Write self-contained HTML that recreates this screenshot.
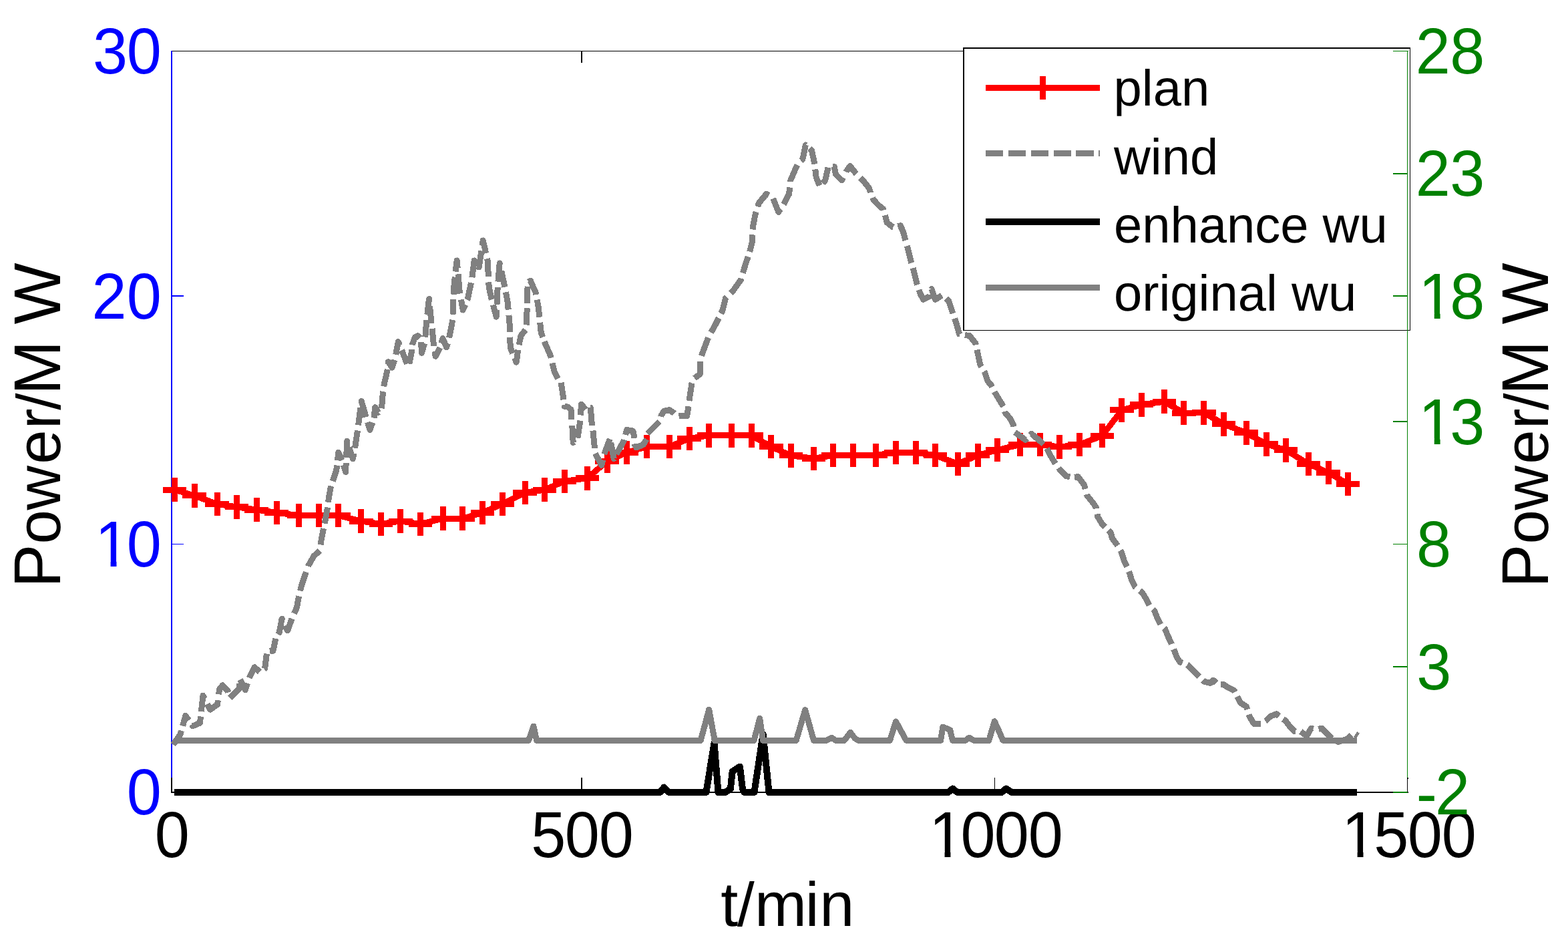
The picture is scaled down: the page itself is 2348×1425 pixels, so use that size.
<!DOCTYPE html>
<html lang="en"><head><meta charset="utf-8"><title>Power plan / wind chart</title>
<style>html,body{margin:0;padding:0;background:#fff;}body{width:2348px;height:1425px;overflow:hidden;}svg{display:block;font-family:'Liberation Sans', Arial, Helvetica, sans-serif;}text{white-space:pre;text-rendering:geometricPrecision;}</style></head><body>
<svg xmlns="http://www.w3.org/2000/svg" width="2348" height="1425" viewBox="0 0 2348 1425">
<defs><clipPath id="one" clipPathUnits="userSpaceOnUse"><rect x="-10" y="-90" width="65" height="81.3"/><rect x="24" y="-9.5" width="9.1" height="12"/><rect x="55" y="-90" width="400" height="130"/></clipPath></defs>
<rect x="0" y="0" width="2348" height="1425" fill="#ffffff"/>
<g shape-rendering="crispEdges">
<rect x="256" y="76" width="1852" height="1" fill="#000000"/>
<rect x="870" y="76" width="2" height="18" fill="#000000"/>
<rect x="1489" y="76" width="1" height="18" fill="#000000"/>
<rect x="256" y="1185" width="1853" height="2" fill="#000000"/>
<rect x="256" y="1164" width="2" height="22" fill="#000000"/>
<rect x="870" y="1164" width="2" height="22" fill="#000000"/>
<rect x="1489" y="1164" width="1" height="22" fill="#000000"/>
<rect x="2107" y="1164" width="1" height="22" fill="#000000"/>
<rect x="2107" y="1164" width="2" height="2" fill="#000000"/>
<rect x="256" y="76" width="2" height="1088" fill="#0000ff"/>
<rect x="258" y="442" width="17" height="2" fill="#0000ff"/>
<rect x="258" y="814" width="17" height="1" fill="#0000ff"/>
</g>
<text transform="matrix(0.975 0 0 1.015 139.06 110.2)" x="0 52.06" y="0" font-size="96" fill="#0000ff">30</text>
<text transform="matrix(0.975 0 0 1.015 137.62 477.2)" x="0 53.51" y="0" font-size="96" fill="#0000ff">20</text>
<text transform="matrix(0.975 0 0 1.015 142.21 848.2)" x="0 48.81" y="0" font-size="96" fill="#0000ff" clip-path="url(#one)">10</text>
<text transform="matrix(0.975 0 0 1.015 189.78 1219.2)" x="0" y="0" font-size="96" fill="#0000ff">0</text>
<text transform="matrix(0.975 0 0 1.015 231.68 1283.2)" x="0" y="0" font-size="96" fill="#000000">0</text>
<text transform="matrix(0.975 0 0 1.015 795.16 1283.2)" x="0 51.91 104.22" y="0" font-size="96" fill="#000000">500</text>
<text transform="matrix(0.975 0 0 1.015 1391.16 1283.2)" x="0 48.58 100.06 152.37" y="0" font-size="96" fill="#000000" clip-path="url(#one)">1000</text>
<text transform="matrix(0.975 0 0 1.015 2009.21 1283.2)" x="0 49.18 101.14 153.35" y="0" font-size="96" fill="#000000" clip-path="url(#one)">1500</text>
<polyline points="261.5,733.1 291,741.9 325,754.5 354.5,758.9 384,763.1 414,767.4 447.5,771.6 477.4,771.6 506.9,771.6 540.8,780 570.4,784.4 599.8,780 629.2,784.4 663.2,776.2 692.8,776.2 722.6,767.4 752.2,754.4 786,737.4 815.6,733.2 845.2,720.3 879.4,715.8 909,690.4 938.4,677.4 968.2,668.6 1002.2,668.6 1032,656.4 1061.8,651.8 1095.6,651.8 1125.2,651.8 1154.8,668.6 1184.2,681.8 1218.3,686.3 1247.8,681.5 1277.9,681.4 1311.4,681.4 1341.4,677.3 1371,677.3 1400.7,681.6 1434.3,694.4 1464,681.5 1493.5,673.6 1527.5,665.6 1557.1,665.6 1586.9,668.9 1616.5,665.6 1650.3,652.2 1679.9,613.9 1709.5,605.7 1743.3,601.2 1772.9,618.2 1802.9,617.8 1832.4,634.8 1866,647.8 1896,664.7 1925.7,673.8 1959.4,694.4 1989,707.4 2018.5,724.3" fill="none" stroke="#ff0000" stroke-width="9" stroke-linejoin="round" stroke-linecap="butt" shape-rendering="crispEdges"/>
<path d="M243.8 733.1H279.2M261.5 715.3V750.9M273.3 741.9H308.7M291 724.1V759.7M307.3 754.5H342.7M325 736.7V772.3M336.8 758.9H372.2M354.5 741.1V776.7M366.3 763.1H401.7M384 745.3V780.9M396.3 767.4H431.7M414 749.6V785.2M429.8 771.6H465.2M447.5 753.8V789.4M459.7 771.6H495.1M477.4 753.8V789.4M489.2 771.6H524.6M506.9 753.8V789.4M523.1 780H558.5M540.8 762.2V797.8M552.7 784.4H588.1M570.4 766.6V802.2M582.1 780H617.5M599.8 762.2V797.8M611.5 784.4H646.9M629.2 766.6V802.2M645.5 776.2H680.9M663.2 758.4V794M675.1 776.2H710.5M692.8 758.4V794M704.9 767.4H740.3M722.6 749.6V785.2M734.5 754.4H769.9M752.2 736.6V772.2M768.3 737.4H803.7M786 719.6V755.2M797.9 733.2H833.3M815.6 715.4V751M827.5 720.3H862.9M845.2 702.5V738.1M861.7 715.8H897.1M879.4 698V733.6M891.3 690.4H926.7M909 672.6V708.2M920.7 677.4H956.1M938.4 659.6V695.2M950.5 668.6H985.9M968.2 650.8V686.4M984.5 668.6H1019.9M1002.2 650.8V686.4M1014.3 656.4H1049.7M1032 638.6V674.2M1044.1 651.8H1079.5M1061.8 634V669.6M1077.9 651.8H1113.3M1095.6 634V669.6M1107.5 651.8H1142.9M1125.2 634V669.6M1137.1 668.6H1172.5M1154.8 650.8V686.4M1166.5 681.8H1201.9M1184.2 664V699.6M1200.6 686.3H1236M1218.3 668.5V704.1M1230.1 681.5H1265.5M1247.8 663.7V699.3M1260.2 681.4H1295.6M1277.9 663.6V699.2M1293.7 681.4H1329.1M1311.4 663.6V699.2M1323.7 677.3H1359.1M1341.4 659.5V695.1M1353.3 677.3H1388.7M1371 659.5V695.1M1383 681.6H1418.4M1400.7 663.8V699.4M1416.6 694.4H1452M1434.3 676.6V712.2M1446.3 681.5H1481.7M1464 663.7V699.3M1475.8 673.6H1511.2M1493.5 655.8V691.4M1509.8 665.6H1545.2M1527.5 647.8V683.4M1539.4 665.6H1574.8M1557.1 647.8V683.4M1569.2 668.9H1604.6M1586.9 651.1V686.7M1598.8 665.6H1634.2M1616.5 647.8V683.4M1632.6 652.2H1668M1650.3 634.4V670M1662.2 613.9H1697.6M1679.9 596.1V631.7M1691.8 605.7H1727.2M1709.5 587.9V623.5M1725.6 601.2H1761M1743.3 583.4V619M1755.2 618.2H1790.6M1772.9 600.4V636M1785.2 617.8H1820.6M1802.9 600V635.6M1814.7 634.8H1850.1M1832.4 617V652.6M1848.3 647.8H1883.7M1866 630V665.6M1878.3 664.7H1913.7M1896 646.9V682.5M1908 673.8H1943.4M1925.7 656V691.6M1941.7 694.4H1977.1M1959.4 676.6V712.2M1971.3 707.4H2006.7M1989 689.6V725.2M2000.8 724.3H2036.2M2018.5 706.5V742.1" fill="none" stroke="#ff0000" stroke-width="9" shape-rendering="crispEdges"/>
<path d="M259.3 1114.6 L270.1 1099.1 L271.6 1093.8M273.6 1086.6 L277.8 1071.3 L282.7 1078.3M286.9 1084.4 L288.6 1086.8 L299.4 1082.2 L300.5 1072.5M301.3 1065.1 L304 1041.2 L306.3 1045.7M310.4 1053.6 L314.8 1062.1 L325.6 1054.4 L326.4 1048.2M327.6 1039.3 L328.7 1031.2 L333.4 1025.8 L341.1 1034.3 L341.7 1036.5M344.2 1045.1 L358.1 1031.2 L358.5 1022.9M359.5 1017.2 L367.3 1032.8 L370.6 1022.8M373.3 1014.7 L373.5 1014.2 L381.2 998.8 L389 1005.8M395.5 1001.4 L396.7 1000.3 L399.4 978.5M404 974.9 L409 974.1 L412.8 955.9M416.4 949.5 L418.3 946.3 L422.1 926.2 L423.4 929M427.1 936.6 L430.6 944 L437.1 926M440.5 918.3 L444.5 909.3 L446 900.2 L447.8 892.5M449.6 884.4 L451 878.2 L457 860.2 L458.4 856.2M461.5 847.6 L462 846.2 L470.1 832.2 L478.9 824.3M480.2 815.4 L481.1 808.2 L484.6 791.1M486.2 783.7 L490.1 762.1 L490.5 759.4M491.5 751.8 L492.5 744.1 L495.1 730.1 L495.9 727.6M498.3 720.3 L503.8 703.5 L504.6 696.6M505.5 689 L506.9 677.2 L511.9 689M514.3 696.2 L517.6 706.5 L518.2 692.7M518.6 685.1 L519.7 660.3 L520.2 661.8M522.7 669.5 L528.4 686.7 L530 678.7M531.5 670.7 L535.5 644.4M536.6 636.3 L540 610.1M541 602 L541.2 600.4 L547.9 623.5 L548.1 624.3M550.5 632.1 L554 643.6 L557.8 632.5M560.1 625.6 L561.7 609.6 L566.3 617.4 L566.5 617.2M571.5 611.4 L573.5 586.6 L573.6 586.1M574.5 578.3 L580.4 553M581.2 545 L581.5 541.5 L587.1 550.2 L590.9 538.7M592.7 530.9 L596.3 511.6 L598.6 517M601.6 524.2 L602 525.1 L609.5 544.7M612.7 544.6 L616.3 527.1 L616.7 523.1M617.3 516.4 L617.4 515.8 L621.5 504.6 L625.6 502.7 L628.8 506.1M630.5 512.2 L631.5 528.2 L635.7 514M636.8 504.6 L638.9 478.9 L638.9 478.7M639.8 470.8 L642.5 447.6 L642.8 450.2M643.5 458.1 L646.1 483.9M647.1 491.8 L649.6 518M650.9 526 L652.2 533.3 L658.7 520.2M660.9 513.8 L663 506.5 L668.6 519.9 L670.3 514M672.7 505.6 L677.8 478.9M678 470.6 L678.7 447.7M679.1 440.7 L680.2 424.1 L681.3 414.6M682.2 406.6 L684.2 390 L685.2 401.6M686 410.3 L688.2 436.1 L688.8 439.5M690.4 448.4 L693.2 464.1 L696.8 455.9M699.8 448.9 L700.2 448.1 L705.5 423.2M706.9 415.2 L710.2 390 L711.1 391.3M715.9 398.1 L717.2 400 L720.9 375.5M722.1 367.3 L723.2 360 L727.7 379.1M729.5 387.2 L730.2 390 L731.4 414.1M731.8 422.4 L732.2 430.1 L736.2 448.1 L736.3 448.4M738.4 456.3 L743.2 474.1 L743.6 464.3M744 455.6 L745.2 430.1 L745.2 429.7M745.9 421.7 L748.2 394 L748.7 396.4M750.7 405.5 L755.2 426.1 L755.9 429.7M757.3 437.2 L760.2 452.1 L761.2 463.6M761.9 471.8 L763.2 486.1 L763.5 496.8M763.7 504.6 L764.2 520.1 L767.7 529M770.7 536.1 L773.2 542.2 L775.7 523.8M777.1 516.2 L780.2 502.1 L786.9 493.8M788.4 486.5 L789.2 461.4M789.4 453.7 L790.1 428.6M792.5 421.8 L794.3 420.1 L802.3 438.1 L802.8 441M804.2 448.6 L806.3 460.1 L807.8 474.7M808.7 482.7 L810.3 498.1 L812.8 504.7M815.2 511.2 L816.3 514.1 L824.3 532.2 L825.2 535.6M827.1 543.5 L830.3 556.2 L835.4 566.8M840.2 572.8 L844 598.2M845.1 606.1 L845.4 608.2 L850.5 609.2 L855.1 613.3 L855.6 628.2M856.8 636.9 L858.2 662.5 L859.2 661.5M864.9 655.6 L868.9 629.7 L868.9 629.6M869.4 621.5 L870.5 605.1 L876.8 613M884.2 610.2 L884.3 610.2 L886.4 636.3 L886.4 636.5M887.9 644.5 L890.5 670.7 L890.5 670.8M891.5 678.9 L900.7 696.3 L902.7 688.3M904.8 679.9 L913.2 657.1M914.7 662.8 L919.2 686.7 L919.3 686.5M923 679.9 L934.5 659.4 L934.8 658.3M936.7 651 L938.6 643.4 L947.9 645.1 L949.9 654.3 L950 655.7M950.4 664.4 L950.5 665.6 L953 669.8 L963.2 665.6 L968.3 657.4 L968.3 657.4M969.4 649.2 L987.4 631.1M989.6 623.7 L989.9 622.5 L994 615.3 L1002.2 613.7 L1009.3 618.4 L1009.7 618.8M1016.5 622.7 L1016.5 622.7 L1028.8 622.5 L1030.9 608.2 L1030.9 608.2M1031.9 600 L1036 573.8 L1036.2 573.4M1040.1 566.1 L1048.3 560 L1049 541.3M1050.4 532.6 L1060.5 505.5M1064.7 497.7 L1070.9 486.7 L1076.3 475.9M1079.7 469.1 L1082.2 464.1 L1086.7 446 L1088.3 444.4M1094.1 438.7 L1098 434.8 L1109.3 419 L1110 416.7M1112.4 408.6 L1116.1 396.4 L1120.2 384.3M1122.7 376.8 L1122.9 376.1 L1126.3 362.5 L1126.8 351.4M1127.2 343.5 L1127.4 340 L1130.8 321.9 L1132.3 317.2M1134.7 309.3 L1136.4 303.8 L1147.7 290.3 L1151.3 292.1M1157.6 297.1 L1165.8 317.4 L1168.8 312.8M1173.5 305.8 L1174.8 303.8 L1181.6 290.3 L1182.7 280.5M1183.6 272.1 L1183.8 270 L1190.6 254.2 L1194.2 247M1199.6 240.6 L1201.9 238.4 L1206.4 216.9 L1206.5 217M1212.4 222.2 L1215.4 224.8 L1219.9 245.1 L1220 245.7M1220.8 253.4 L1222.2 265.5 L1227.3 277.7M1232 274.2 L1235.7 270 L1240 250.7M1247 249.7 L1249.3 249.7 L1251.5 260.9 L1260.6 270 L1262.6 265.9M1266.9 257.3 L1267.3 256.4 L1273 248.5 L1280.9 258.7 L1282.6 260.4M1288.2 266 L1292.2 270 L1301.2 281.3 L1303.5 288 L1303.5 288.1M1306.6 295.9 L1308 299.3 L1317 308.4 L1322.6 312.9 L1323.1 314.6M1325.4 322.2 L1326 324.2 L1328.3 333.2 L1337.3 340 L1337.4 340M1344.3 338.6 L1348.6 337.7 L1353.1 349 L1355.4 358 L1355.9 359.9M1358.3 368.1 L1359.9 373.8 L1364.4 391.9 L1364.9 393.5M1367.1 401.2 L1368.9 407.7 L1373.4 425.7 L1373.6 426.3M1376.1 433.9 L1377.9 439.3 L1382.5 448.3 L1391.5 443.8 L1392.3 441.2M1394.8 432.7 L1394.9 432.5 L1400.5 448.3 L1410.4 442.3M1416.9 446.6 L1420.8 450.6 L1425.3 464.1 L1427 469.3M1429.5 476.7 L1432.1 484.4 L1436.6 500.2 L1437.2 500.3M1444.9 501.5 L1451.9 502.6 L1460.9 513.9 L1461.4 516.3M1463 523.6 L1464.3 529.7 L1467.7 545.5 L1469.7 548.8M1473.9 555.7 L1474.5 556.7 L1479 570.3 L1484.7 577.1 L1485.7 579.2M1489.4 586.5 L1490.3 588.4 L1497.1 599.6 L1502.5 608.3M1504.5 615.9 L1505 617.7 L1512.9 626.7 L1517.4 635.8 L1518 638.8M1519.6 647 L1535.4 658.3 L1537.8 655.9M1542.8 651 L1544.5 649.3 L1558 660.6 L1562.4 665M1567.7 671 L1573.8 683.2 L1580.4 694M1585.2 700.5 L1587.4 703.5 L1596.4 712.5 L1602.3 714M1609 714.3 L1614.4 713.6 L1623.5 726 L1625.2 731.9M1627.4 739.9 L1628 741.9 L1637 753.1 L1641.5 759.9 L1641.7 761.3M1643.1 769.3 L1643.8 773.5 L1650.6 784.7 L1654.6 788.7M1659.7 793.6 L1663.2 796.8 L1665.5 805.8 L1672.2 814.8 L1673.4 816.7M1677.7 824 L1679 826.1 L1683.5 839.7 L1687.6 848M1690.5 855.4 L1691.4 857.7 L1694.8 869 L1699.3 878 L1700.6 879.1M1706.9 884.1 L1710.6 887.1 L1717.4 898.4 L1721.1 905.9M1726.4 911.9 L1728.7 914.2 L1733.2 925.4 L1737.7 934.5 L1737.7 934.5M1743.3 940.1 L1744.5 941.2 L1749 952.5 L1754.6 963.8 L1754.7 964.1M1757.6 971.8 L1758 972.8 L1762.5 984.1 L1767 990.9 L1770.7 992.4M1777.9 995.2 L1778.3 995.4 L1787.4 1004.4 L1795.9 1013M1801.5 1018.5 L1803.2 1020.2 L1812.2 1022.5 L1816.7 1018 L1821.3 1022.6M1828 1024.8 L1832.5 1024.8 L1839.3 1029.3 L1848.3 1033.8 L1849.4 1035.9M1852.8 1042.8 L1857.3 1051.9 L1866.4 1057.5 L1867.8 1062M1870.1 1069.5 L1870.9 1072.2 L1877.7 1083.5 L1888.1 1083.5M1894.9 1079.4 L1895.7 1078.9 L1902.5 1072.2 L1911.5 1068.8 L1915.2 1071.9M1921.4 1076.4 L1925.1 1078.9 L1931.8 1088 L1938.6 1094.7 L1939.8 1094.7M1947.8 1094.9 L1956.7 1101.5 L1963.4 1090.2 L1966.4 1091.2M1974.5 1091.4 L1979.2 1090.2 L1988.3 1099.3 L1994.1 1105.1M2001.1 1109 L2004.1 1110.5 L2017.6 1106 L2023.5 1100.1M2029.7 1099 L2033.4 1101.5" fill="none" stroke="#808080" stroke-width="9" stroke-linejoin="round" stroke-linecap="butt" shape-rendering="crispEdges"/>
<polyline points="261,1185.8 988.5,1185.8 994.4,1178.5 1001.5,1185.8 1057.5,1185.8 1069.5,1112 1075.5,1185.8 1086.2,1185.8 1093.9,1181 1096.6,1155 1107.9,1147.5 1112,1181 1114.5,1185.8 1129.5,1185.8 1142.6,1099 1151.5,1185.8 1420,1185.8 1426.5,1180.5 1433.5,1185.8 1500,1185.8 1506.5,1180.5 1515,1185.8 2032,1185.8" fill="none" stroke="#000000" stroke-width="10" stroke-linejoin="round" stroke-linecap="butt" shape-rendering="crispEdges"/>
<g shape-rendering="crispEdges">
<rect x="1442" y="71" width="670" height="424" fill="#ffffff"/>
<rect x="1442" y="71" width="670" height="2" fill="#000000"/>
<rect x="1442" y="71" width="2" height="424" fill="#000000"/>
<rect x="1442" y="494" width="670" height="1" fill="#000000"/>
<rect x="2111" y="71" width="1" height="424" fill="#000000"/>
<rect x="1476" y="127" width="171" height="9" fill="#ff0000"/>
<rect x="1557" y="114" width="9" height="35" fill="#ff0000"/>
<rect x="1476" y="225" width="26" height="9" fill="#808080"/>
<rect x="1510" y="225" width="26" height="9" fill="#808080"/>
<rect x="1544" y="225" width="26" height="9" fill="#808080"/>
<rect x="1578" y="225" width="26" height="9" fill="#808080"/>
<rect x="1611" y="225" width="27" height="9" fill="#808080"/>
<rect x="1645" y="225" width="2" height="9" fill="#808080"/>
<rect x="1476" y="327" width="171" height="10" fill="#000000"/>
<rect x="1476" y="426" width="171" height="9" fill="#808080"/>
</g>
<text x="1667.6" y="157.8" font-size="76" fill="#000000">plan</text>
<text x="1667.9" y="260.8" font-size="76" fill="#000000">wind</text>
<text x="1667.9" y="362.8" font-size="76" fill="#000000">enhance wu</text>
<text x="1667.9" y="464.9" font-size="76" fill="#000000">original wu</text>
<g shape-rendering="crispEdges">
<rect x="2107" y="76" width="1" height="1088" fill="#008000"/>
<rect x="2086" y="76" width="23" height="1" fill="#008000"/>
<rect x="2086" y="259" width="21" height="2" fill="#008000"/>
<rect x="2086" y="442" width="21" height="2" fill="#008000"/>
<rect x="2086" y="630" width="21" height="2" fill="#008000"/>
<rect x="2086" y="814" width="21" height="1" fill="#008000"/>
<rect x="2086" y="997" width="21" height="2" fill="#008000"/>
<rect x="2086" y="1185" width="22" height="2" fill="#008000"/>
</g>
<text transform="matrix(0.975 0 0 1.015 2119.73 110.2)" x="0 52.91" y="0" font-size="96" fill="#008000">28</text>
<text transform="matrix(0.975 0 0 1.015 2119.73 293.2)" x="0 52.81" y="0" font-size="96" fill="#008000">23</text>
<text transform="matrix(0.975 0 0 1.015 2124.36 477.2)" x="0 48.05" y="0" font-size="96" fill="#008000" clip-path="url(#one)">18</text>
<text transform="matrix(0.975 0 0 1.015 2124.36 665)" x="0 48.05" y="0" font-size="96" fill="#008000" clip-path="url(#one)">13</text>
<text transform="matrix(0.975 0 0 1.015 2121.11 848.2)" x="0" y="0" font-size="96" fill="#008000">8</text>
<text transform="matrix(0.975 0 0 1.015 2121.21 1032.2)" x="0" y="0" font-size="96" fill="#008000">3</text>
<text transform="matrix(0.975 0 0 1.015 2120.85 1218.6)" x="0 28.79" y="2.3 0" font-size="96" fill="#008000">-2</text>
<polyline points="261,1108.3 791.5,1108.3 795.3,1098 799,1087 803.5,1108.3 1049.2,1108.3 1054.9,1087.5 1061.7,1062 1070.2,1108.3 1129,1108.3 1137.7,1075.4 1142.6,1108.3 1192.3,1108.3 1205.7,1062.6 1218.5,1108.3 1237,1108.3 1245.3,1104.2 1251.5,1108.3 1264.4,1108.3 1273.4,1096.4 1280.4,1105.4 1285.5,1108.3 1332.6,1108.3 1341.5,1080 1357,1108.3 1408.6,1108.3 1411.8,1088.1 1422.7,1092.6 1426.5,1108.3 1445.6,1108.3 1451.4,1104.2 1458.4,1108.3 1480.8,1108.3 1489.3,1079.8 1496.8,1096.4 1501.9,1108.3 2031.8,1108.3" fill="none" stroke="#808080" stroke-width="9" stroke-linejoin="round" stroke-linecap="butt" shape-rendering="crispEdges"/>
<text transform="matrix(1.0 0 0 1.0 1079.34 1385.8)" y="0" fill="#000000"><tspan x="0" font-size="93.6">t</tspan><tspan x="24.75" font-size="92.5">/</tspan><tspan x="50.71 126.52 147.88" font-size="93.6">min</tspan></text>
<text transform="translate(89.9 879.73) rotate(-90) scale(0.985 1.0)" y="0" fill="#000000"><tspan x="0" font-size="99">P</tspan><tspan x="66.32 118.02 187.69 241.11" font-size="93.6">ower</tspan><tspan x="269.97" font-size="92.5">/</tspan><tspan x="293.04 373.32 400.21" font-size="99">M W</tspan></text>
<text transform="translate(2317.9 879.73) rotate(-90) scale(0.985 1.0)" y="0" fill="#000000"><tspan x="0" font-size="99">P</tspan><tspan x="66.32 118.02 187.69 241.11" font-size="93.6">ower</tspan><tspan x="269.97" font-size="92.5">/</tspan><tspan x="293.04 373.32 400.21" font-size="99">M W</tspan></text>
</svg></body></html>
